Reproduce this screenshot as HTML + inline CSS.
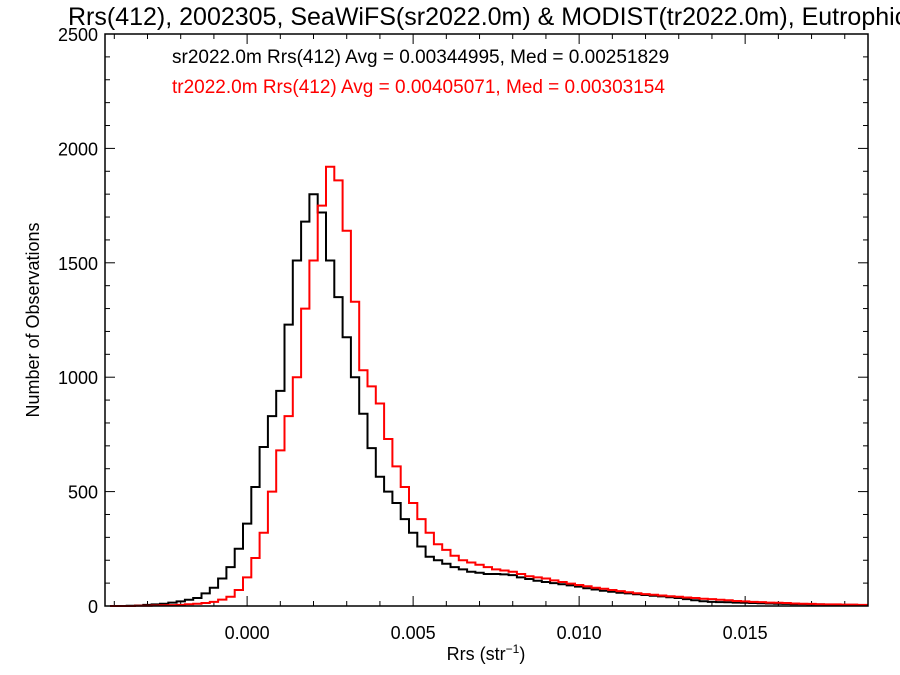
<!DOCTYPE html>
<html><head><meta charset="utf-8"><style>
body{margin:0;background:#fff}
svg{display:block;font-family:"Liberation Sans",Arial,sans-serif}
</style></head><body>
<svg id="chart" width="900" height="675" viewBox="0 0 900 675">
<text x="68" y="25" font-size="25">Rrs(412), 2002305, SeaWiFS(sr2022.0m) &amp; MODIST(tr2022.0m), Eutrophic</text>
<g id="ticks"></g>
<g id="series"></g>
<rect x="105" y="34" width="763" height="572" fill="none" stroke="#000" stroke-width="1.5"/>
<text x="172" y="63" font-size="19">sr2022.0m Rrs(412) Avg = 0.00344995, Med = 0.00251829</text>
<text x="172" y="93" font-size="19" fill="#ff0000">tr2022.0m Rrs(412) Avg = 0.00405071, Med = 0.00303154</text>
<text x="486" y="660" font-size="18" text-anchor="middle">Rrs (str<tspan font-size="12" dy="-7">−1</tspan><tspan dy="7">)</tspan></text>
<text transform="translate(39,320) rotate(-90)" font-size="18" text-anchor="middle">Number of Observations</text>
</svg>
<script>
const binStart = -0.004;
const binWidth = 0.00025;
const xTicks = [0, 0.005, 0.010, 0.015];
const xTickLabels = ["0.000", "0.005", "0.010", "0.015"];
const yTicks = [0, 500, 1000, 1500, 2000, 2500];
const yTickLabels = ["0", "500", "1000", "1500", "2000", "2500"];
const seriesSr = [0,0,1,2,5,7,10,15,20,27,35,55,80,120,170,250,360,520,695,830,940,1230,1510,1680,1800,1720,1510,1350,1175,1000,840,690,565,500,450,380,320,260,215,200,185,170,160,150,145,140,140,138,135,125,118,110,105,100,95,90,85,78,72,67,62,58,55,51,48,45,42,38,35,30,25,21,18,17,16,15,14,13,12,11,10,9,8,8,7,7,6,6,5,5,4,4,4];
const seriesTr = [0,0,0,1,1,2,3,4,5,8,10,13,18,28,40,70,125,210,320,500,680,830,1000,1300,1510,1750,1920,1860,1640,1330,1030,960,885,730,610,520,450,380,320,270,245,220,200,190,180,170,160,155,150,140,130,125,120,112,105,98,92,86,80,75,70,65,60,56,52,49,46,43,40,37,35,32,30,27,25,22,20,18,17,15,14,13,11,10,9,8,7,7,6,6,5,5,5];

const X0 = 105, X1 = 868, Y0 = 606, Y1 = 34;
const xMin = -0.00428, xMax = 0.01870, yMax = 2500;
const xs = v => X0 + (v - xMin) / (xMax - xMin) * (X1 - X0);
const ys = v => Y0 - v / yMax * (Y0 - Y1);
const NS = "http://www.w3.org/2000/svg";
const tg = document.getElementById('ticks');
const sg = document.getElementById('series');
function mk(tag, attrs, parent) { const e = document.createElementNS(NS, tag); for (const k in attrs) e.setAttribute(k, attrs[k]); parent.appendChild(e); return e; }

for (let i = -4; i <= 18; i++) {
  const v = i * 0.001, x = xs(v);
  if (x < X0 || x > X1) continue;
  const major = i % 5 === 0, L = major ? 10 : 5;
  const t1 = mk('line', {x1: x, x2: x, y1: Y0, y2: Y0 - L, stroke: '#000'}, tg);
  
  
  const t2 = mk('line', {x1: x, x2: x, y1: Y1, y2: Y1 + L, stroke: '#000'}, tg);
  
  
}
xTicks.forEach((v, i) => {
  const t = mk('text', {x: xs(v), y: 639, 'font-size': 18, 'text-anchor': 'middle'}, tg);
  t.textContent = xTickLabels[i];
  
  
});
for (let v = 0; v <= 2500; v += 100) {
  const y = ys(v), major = v % 500 === 0, L = major ? 10 : 5;
  const t1 = mk('line', {x1: X0, x2: X0 + L, y1: y, y2: y, stroke: '#000'}, tg);
  
  
  const t2 = mk('line', {x1: X1, x2: X1 - L, y1: y, y2: y, stroke: '#000'}, tg);
  
  
}
yTicks.forEach((v, i) => {
  const t = mk('text', {x: 98, y: ys(v) + 7, 'font-size': 18, 'text-anchor': 'end'}, tg);
  t.textContent = yTickLabels[i];
  
  
});

function stepPath(vals) {
  let d = '';
  vals.forEach((v, i) => {
    const c = binStart + i * binWidth;
    const xa = Math.max(X0, xs(c - binWidth / 2)), xb = Math.min(X1, xs(c + binWidth / 2));
    if (xb <= xa) return;
    const y = ys(v);
    d += (d ? 'L' : 'M') + xa.toFixed(1) + ',' + y.toFixed(1) + 'L' + xb.toFixed(1) + ',' + y.toFixed(1);
  });
  return d;
}
const p1 = mk('path', {d: stepPath(seriesSr), fill: 'none', stroke: '#000', 'stroke-width': 2}, sg);


const p2 = mk('path', {d: stepPath(seriesTr), fill: 'none', stroke: '#ff0000', 'stroke-width': 2}, sg);


</script>
</body></html>
